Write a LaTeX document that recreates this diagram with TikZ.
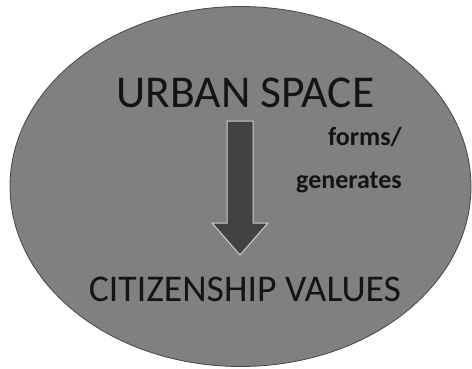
\documentclass[tikz,border=0pt]{standalone}
\usepackage{fontspec}
\setmainfont{Carlito}
\usetikzlibrary{shapes.geometric}
\definecolor{ellfill}{RGB}{128,128,128}
\definecolor{ellline}{RGB}{70,70,70}
\definecolor{arrfill}{RGB}{66,66,66}
\definecolor{arrline}{RGB}{205,205,205}
\definecolor{txt}{RGB}{20,20,20}
\begin{document}
\begin{tikzpicture}[x=1pt,y=-1pt,
  bigtext/.style={text=txt,inner sep=0pt,anchor=base,font=\fontsize{45.5}{48}\selectfont},
  smalltext/.style={text=txt,inner sep=0pt,anchor=base,font=\bfseries\fontsize{26}{28}\selectfont}]
\useasboundingbox (0,0) rectangle (472,368);
\fill[white] (0,0) rectangle (472,368);
\node[ellipse, draw=ellline, fill=ellfill, line width=0.8pt, minimum width=461pt, minimum height=360pt, inner sep=0pt] (oval) at (240.5,186.5) {};
\draw[draw=arrline, fill=arrfill, line width=1pt, line join=miter]
  (227,121) -- (253,121) -- (253,223) -- (268,223) -- (240,255) -- (212,223) -- (227,223) -- cycle;
\node[bigtext] (urban) at (245.5,107) {URBAN SPACE};
\node[bigtext,font=\fontsize{37.7}{40}\selectfont] (citizen) at (245,301) {CITIZENSHIP VALUES};
\node[smalltext] (forms) at (365,145) {forms/};
\node[smalltext] (gen) at (349,188) {generates};
\end{tikzpicture}
\end{document}
